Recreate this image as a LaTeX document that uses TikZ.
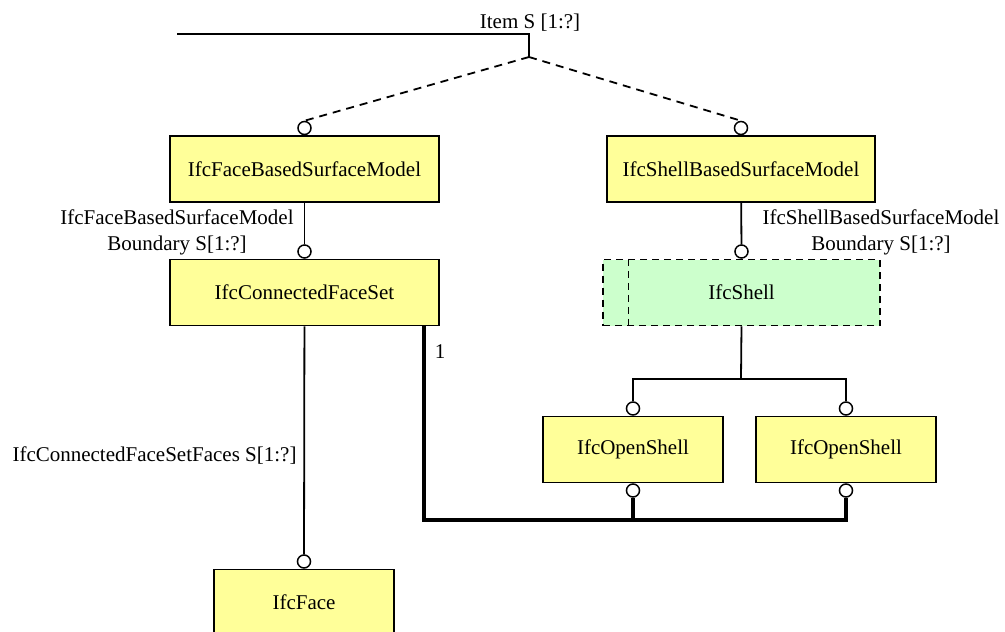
\documentclass[tikz,border=0pt]{standalone}
\usepackage{fontspec}
\setmainfont{Liberation Serif}
\usepackage{tikz}
\usetikzlibrary{positioning}
\definecolor{ifcyellow}{RGB}{255,255,153}
\definecolor{ifcgreen}{RGB}{204,255,204}
\tikzset{
    entity/.style={draw, line width=1.5pt, fill=ifcyellow, minimum height=66pt, inner sep=0pt},
    select/.style={draw, line width=1.5pt, fill=ifcgreen, minimum height=66pt, inner sep=0pt, dash pattern=on 7pt off 5pt},
    ring/.style={draw, circle, fill=white, line width=1.5pt, minimum size=13pt, inner sep=0pt},
    link/.style={line width=1.8pt},
    heavy/.style={line width=4.5pt},
}
\begin{document}
\begin{tikzpicture}[x=1pt, y=-1pt, font=\fontsize{21}{26}\selectfont]
        \useasboundingbox (0,0) rectangle (1005,632);

        \node[entity, minimum width=269pt] (FaceModel) at (304.5,169) {IfcFaceBasedSurfaceModel};
        \node[entity, minimum width=268pt] (ShellModel) at (741,169) {IfcShellBasedSurfaceModel};
        \node[entity, minimum width=269pt] (FaceSet) at (304.5,292.5) {IfcConnectedFaceSet};
        \node[select, minimum width=277pt] (Shell) at (741.5,292.5) {IfcShell};
        \node[entity, minimum width=180pt] (OpenShellA) at (633,449.5) {IfcOpenShell};
        \node[entity, minimum width=180pt] (OpenShellB) at (846,449.5) {IfcOpenShell};
        \node[entity, minimum width=180pt] (Face) at (304,602.5) {IfcFace};

        \node[ring, above=0pt of FaceModel] (FaceModelRing) {};
        \node[ring, above=0pt of ShellModel] (ShellModelRing) {};
        \node[ring, above=0pt of FaceSet] (FaceSetRing) {};
        \node[ring, above=0pt of Shell] (ShellRing) {};
        \node[ring, above=0pt of OpenShellA] (OpenShellARing) {};
        \node[ring, above=0pt of OpenShellB] (OpenShellBRing) {};
        \node[ring, below=0pt of OpenShellA] (OpenShellALow) {};
        \node[ring, below=0pt of OpenShellB] (OpenShellBLow) {};
        \node[ring, above=0pt of Face] (FaceRing) {};

        \coordinate (ItemStart) at (177,34);
        \coordinate (ItemCorner) at (529,34);
        \coordinate (ItemFork) at (529,57);
        \coordinate (ShellFork) at (741,379);
        \coordinate (Bus) at (424,520);

        \node (ItemLabel) at (530,23) {Item S [1:?]};
        \node[align=center] (FaceModelLabel) at (177,232) {IfcFaceBasedSurfaceModel\\Boundary S[1:?]};
        \node[align=center] (ShellModelLabel) at (881,232) {IfcShellBasedSurfaceModel\\Boundary S[1:?]};
        \node (FacesLabel) at (154.5,456) {IfcConnectedFaceSetFaces S[1:?]};
        \node (OneLabel) at (440,352) {1};

        \draw[link] (ItemStart) -- (ItemCorner) -- (ItemFork);
        \draw[link, dash pattern=on 8pt off 6pt] (ItemFork) -- (FaceModelRing.north);
        \draw[link, dash pattern=on 8pt off 6pt] (ItemFork) -- (ShellModelRing.north);
        \draw[link] (FaceModel) -- (FaceSetRing);
        \draw[link] (ShellModel) -- (ShellRing);
        \draw[link] (FaceSet) -- (FaceRing);
        \draw[line width=1.5pt, dash pattern=on 7pt off 5pt] ([xshift=26pt]Shell.north west) -- ([xshift=26pt]Shell.south west);
        \draw[link] (Shell.south) -- (ShellFork);
        \draw[link] (OpenShellARing) -- (OpenShellARing.north |- ShellFork) -- (OpenShellBRing.north |- ShellFork) -- (OpenShellBRing);
        \draw[heavy] (FaceSet.south -| Bus) -- (Bus) -- (OpenShellBLow.south |- Bus) -- (OpenShellBLow);
        \draw[heavy] (OpenShellALow) -- (OpenShellALow.south |- Bus);

    \end{tikzpicture}
\end{document}
